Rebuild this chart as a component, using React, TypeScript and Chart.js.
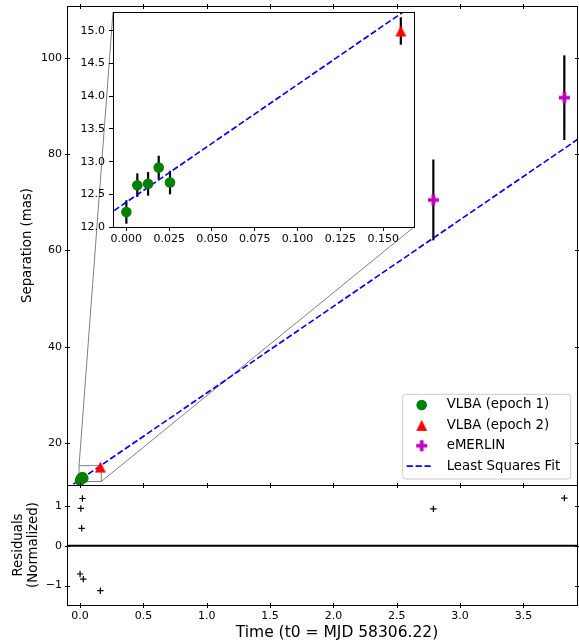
import React, { useEffect, useRef } from 'react';
import { Chart, registerables } from 'chart.js';

Chart.register(...registerables);

const FONT = 'DejaVu Sans';
Chart.defaults.font.family = FONT;

// ---------------- data ----------------
const VLBA1_TIME = [0.0, 0.0064, 0.0127, 0.0189, 0.0255];
const VLBA1_SEP = [12.23, 12.64, 12.66, 12.91, 12.68];
const VLBA1_ERR = [0.18, 0.18, 0.18, 0.18, 0.18];

const VLBA2_TIME = [0.1603];
const VLBA2_SEP = [15.0];
const VLBA2_ERR = [0.21];

const EMERLIN_TIME = [2.789, 3.823];
const EMERLIN_SEP = [70.5, 91.75];
const EMERLIN_ERR = [8.4, 8.8];

const FIT_TIME = [-0.11, 3.93];
const FIT_SEP = [10.4, 83.12];

const RESID_TIME = [0.0, 0.0064, 0.0127, 0.0189, 0.0255, 0.1603, 2.789, 3.823];
const RESID_VALUE = [-0.71, 0.94, 0.44, 1.19, -0.84, -1.13, 0.93, 1.2];

const MAIN_X_TICKS = [0, 0.5, 1, 1.5, 2, 2.5, 3, 3.5];
const MAIN_Y_TICKS = [20, 40, 60, 80, 100];
const RESID_Y_TICKS = [-1, 0, 1];
const INSET_X_TICKS = [0, 0.025, 0.05, 0.075, 0.1, 0.125, 0.15];
const INSET_Y_TICKS = [12.0, 12.5, 13.0, 13.5, 14.0, 14.5, 15.0];

const MAIN_X_RANGE = [-0.103, 3.923];
const MAIN_Y_RANGE = [11.27, 110.8];
const RESID_Y_RANGE = [-1.49, 1.53];
const INSET_X_RANGE = [-0.0078, 0.168];
const INSET_Y_RANGE = [12.0, 15.29];

const LABEL_VLBA1 = 'VLBA (epoch 1)';
const LABEL_VLBA2 = 'VLBA (epoch 2)';
const LABEL_EMERLIN = 'eMERLIN';
const LABEL_FIT = 'Least Squares Fit';
const Y_TITLE_MAIN = 'Separation (mas)';
const Y_TITLE_RESID = ['Residuals', '(Normalized)'];
const X_TITLE = 'Time (t0 = MJD 58306.22)';

// ---------------- styles / layout ----------------
const GREEN = '#008000';
const RED = '#ff0000';
const MAGENTA = '#bf00bf';
const BLUE = '#0000ff';
const TICK_FONT = { family: FONT, size: 11 };
const LABEL_SIZE = 13.3;
const INSET_BOX = { left: 113, top: 12, right: 414, bottom: 227 };

function points(xs: number[], ys: number[]) {
  return xs.map((x, i) => ({ x, y: ys[i] }));
}

function noPad(s: any) {
  s.paddingTop = 0;
  s.paddingBottom = 0;
  s.paddingLeft = 0;
  s.paddingRight = 0;
}

function makeTriangle(size: number, color: string): HTMLCanvasElement {
  const n = Math.ceil(size) + 2;
  const c = document.createElement('canvas');
  c.width = n;
  c.height = n;
  const g = c.getContext('2d')!;
  const cx = n / 2;
  const h = size / 2;
  g.fillStyle = color;
  g.beginPath();
  g.moveTo(cx, cx - h);
  g.lineTo(cx + h, cx + h);
  g.lineTo(cx - h, cx + h);
  g.closePath();
  g.fill();
  return c;
}

function makePlus(size: number, color: string): HTMLCanvasElement {
  const n = Math.ceil(size) + 2;
  const c = document.createElement('canvas');
  c.width = n;
  c.height = n;
  const g = c.getContext('2d')!;
  const cx = n / 2;
  const h = size / 2;
  const a = size / 6;
  g.fillStyle = color;
  g.fillRect(cx - a, cx - h, 2 * a, size);
  g.fillRect(cx - h, cx - a, size, 2 * a);
  return c;
}

const errorBarPlugin = {
  id: 'errorBars',
  beforeDatasetsDraw(chart: any) {
    const { ctx, chartArea: a } = chart;
    const xs = chart.scales.x;
    const ys = chart.scales.y;
    ctx.save();
    ctx.beginPath();
    ctx.rect(a.left, a.top, a.right - a.left, a.bottom - a.top);
    ctx.clip();
    ctx.strokeStyle = '#000';
    ctx.lineWidth = 2.2;
    chart.data.datasets.forEach((d: any) => {
      if (!d.errors) return;
      d.data.forEach((p: any, i: number) => {
        const e = d.errors[i];
        const x = xs.getPixelForValue(p.x);
        ctx.beginPath();
        ctx.moveTo(x, ys.getPixelForValue(p.y - e));
        ctx.lineTo(x, ys.getPixelForValue(p.y + e));
        ctx.stroke();
      });
    });
    ctx.restore();
  },
};

const insetMarkPlugin = {
  id: 'insetMark',
  beforeDatasetsDraw(chart: any, _args: any, opts: any) {
    if (!opts || !opts.show) return;
    const { ctx } = chart;
    const xs = chart.scales.x;
    const ys = chart.scales.y;
    const x0 = xs.getPixelForValue(INSET_X_RANGE[0]);
    const x1 = xs.getPixelForValue(INSET_X_RANGE[1]);
    const y0 = ys.getPixelForValue(INSET_Y_RANGE[1]);
    const y1 = ys.getPixelForValue(INSET_Y_RANGE[0]);
    ctx.save();
    ctx.strokeStyle = '#808080';
    ctx.lineWidth = 1;
    ctx.strokeRect(x0, y0, x1 - x0, y1 - y0);
    ctx.beginPath();
    ctx.moveTo(x0, y0);
    ctx.lineTo(INSET_BOX.left, INSET_BOX.top);
    ctx.moveTo(x1, y1);
    ctx.lineTo(INSET_BOX.right, INSET_BOX.bottom);
    ctx.stroke();
    ctx.restore();
  },
};

const framePlugin = {
  id: 'frame',
  beforeDraw(chart: any, _args: any, opts: any) {
    if (!opts || !opts.fill) return;
    const { ctx, chartArea: a } = chart;
    ctx.save();
    ctx.fillStyle = '#ffffff';
    ctx.fillRect(a.left, a.top, a.right - a.left, a.bottom - a.top);
    ctx.restore();
  },
  beforeDatasetsDraw(chart: any, _args: any, opts: any) {
    if (!opts || !opts.zeroLine) return;
    const { ctx, chartArea: a } = chart;
    const y = chart.scales.y.getPixelForValue(0);
    ctx.save();
    ctx.strokeStyle = '#000';
    ctx.lineWidth = 2;
    ctx.beginPath();
    ctx.moveTo(a.left, y);
    ctx.lineTo(a.right, y);
    ctx.stroke();
    ctx.restore();
  },
  afterDraw(chart: any, _args: any, opts: any) {
    const { ctx, chartArea: a } = chart;
    const L = Math.floor(a.left) + 0.5;
    const R = Math.floor(a.right) + 0.5;
    const T = Math.floor(a.top) + 0.5;
    const B = Math.floor(a.bottom) + 0.5;
    ctx.save();
    ctx.strokeStyle = '#000';
    ctx.lineWidth = 1;
    ctx.strokeRect(L, T, R - L, B - T);
    if (opts && opts.inout) {
      const xs = chart.scales.x;
      const ys = chart.scales.y;
      ctx.beginPath();
      (opts.xTicks || []).forEach((v: number) => {
        const x = Math.round(xs.getPixelForValue(v)) + 0.5;
        ctx.moveTo(x, T - 2.5);
        ctx.lineTo(x, T + 2.5);
        ctx.moveTo(x, B - 2.5);
        ctx.lineTo(x, B + 2.5);
      });
      (opts.yTicks || []).forEach((v: number) => {
        const y = Math.round(ys.getPixelForValue(v)) + 0.5;
        ctx.moveTo(L - 2.5, y);
        ctx.lineTo(L + 2.5, y);
        ctx.moveTo(R - 2.5, y);
        ctx.lineTo(R + 2.5, y);
      });
      ctx.stroke();
    }
    if (opts && opts.xTitle) {
      const t = opts.xTitle;
      ctx.fillStyle = '#000';
      ctx.font = `${t.size}px "${FONT}"`;
      ctx.textAlign = 'center';
      ctx.textBaseline = 'middle';
      ctx.fillText(t.text, t.x, t.y);
    }
    ctx.restore();
  },
};

const legendPlugin = {
  id: 'mplLegend',
  afterDatasetsDraw(chart: any, _args: any, opts: any) {
    if (!opts || !opts.show) return;
    const { ctx, chartArea: a } = chart;
    const w = 168;
    const h = 84.7;
    const right = a.right - 6.3;
    const bottom = a.bottom - 6;
    const left = right - w;
    const top = bottom - h;
    const r = 3;
    ctx.save();
    ctx.beginPath();
    ctx.moveTo(left + r, top);
    ctx.lineTo(right - r, top);
    ctx.arcTo(right, top, right, top + r, r);
    ctx.lineTo(right, bottom - r);
    ctx.arcTo(right, bottom, right - r, bottom, r);
    ctx.lineTo(left + r, bottom);
    ctx.arcTo(left, bottom, left, bottom - r, r);
    ctx.lineTo(left, top + r);
    ctx.arcTo(left, top, left + r, top, r);
    ctx.closePath();
    ctx.fillStyle = 'rgba(255,255,255,0.8)';
    ctx.fill();
    ctx.strokeStyle = '#cccccc';
    ctx.lineWidth = 1;
    ctx.stroke();

    const items = chart.data.datasets
      .filter((d: any) => d.label)
      .slice()
      .sort((p: any, q: any) => p.legendOrder - q.legendOrder);
    items.forEach((d: any, i: number) => {
      const y = top + 10.7 + i * 20.35;
      const mx = left + 19;
      if (d.showLine) {
        ctx.save();
        ctx.strokeStyle = d.borderColor;
        ctx.lineWidth = d.borderWidth;
        ctx.setLineDash(d.borderDash || []);
        ctx.beginPath();
        ctx.moveTo(left + 4, y);
        ctx.lineTo(left + 30.7, y);
        ctx.stroke();
        ctx.restore();
      } else if (typeof d.pointStyle === 'object') {
        const img = d.pointStyle;
        ctx.drawImage(img, mx - img.width / 2, y - img.height / 2);
      } else {
        ctx.fillStyle = d.backgroundColor;
        ctx.beginPath();
        ctx.arc(mx, y, d.pointRadius, 0, Math.PI * 2);
        ctx.fill();
      }
      ctx.fillStyle = '#000';
      ctx.font = `${LABEL_SIZE}px "${FONT}"`;
      ctx.textAlign = 'left';
      ctx.textBaseline = 'middle';
      ctx.fillText(d.label, left + 44, y);
    });
    ctx.restore();
  },
};

function buildDatasets(tri: HTMLCanvasElement, plus: HTMLCanvasElement) {
  return [
    {
      label: LABEL_VLBA1,
      legendOrder: 0,
      data: points(VLBA1_TIME, VLBA1_SEP),
      errors: VLBA1_ERR,
      pointStyle: 'circle',
      pointRadius: 5.3,
      backgroundColor: GREEN,
      borderColor: GREEN,
      borderWidth: 0,
      order: 0,
    },
    {
      label: LABEL_VLBA2,
      legendOrder: 1,
      data: points(VLBA2_TIME, VLBA2_SEP),
      errors: VLBA2_ERR,
      pointStyle: tri,
      pointRadius: 5,
      backgroundColor: RED,
      borderColor: RED,
      borderWidth: 0,
      order: 0,
    },
    {
      label: LABEL_EMERLIN,
      legendOrder: 2,
      data: points(EMERLIN_TIME, EMERLIN_SEP),
      errors: EMERLIN_ERR,
      pointStyle: plus,
      pointRadius: 5,
      backgroundColor: MAGENTA,
      borderColor: MAGENTA,
      borderWidth: 0,
      order: 0,
    },
    {
      label: LABEL_FIT,
      legendOrder: 3,
      data: points(FIT_TIME, FIT_SEP),
      showLine: true,
      pointRadius: 0,
      borderColor: BLUE,
      borderWidth: 1.67,
      borderDash: [6.2, 2.7],
      fill: false,
      order: 1,
    },
  ];
}

const HIDDEN_GRID = { display: false, drawTicks: false };

export default function App() {
  const mainRef = useRef<HTMLCanvasElement>(null);
  const residRef = useRef<HTMLCanvasElement>(null);
  const insetRef = useRef<HTMLCanvasElement>(null);

  useEffect(() => {
    const tri = makeTriangle(11, RED);
    const plus = makePlus(11, MAGENTA);

    const main = new Chart(mainRef.current!, {
      type: 'scatter',
      data: { datasets: buildDatasets(tri, plus) as any },
      options: {
        animation: false,
        responsive: false,
        layout: { autoPadding: false, padding: { top: 6, right: 2, bottom: 5, left: 0 } },
        scales: {
          x: { type: 'linear', display: false, min: MAIN_X_RANGE[0], max: MAIN_X_RANGE[1] },
          y: {
            type: 'linear',
            min: MAIN_Y_RANGE[0],
            max: MAIN_Y_RANGE[1],
            afterBuildTicks: (s: any) => {
              s.ticks = MAIN_Y_TICKS.map((v) => ({ value: v }));
            },
            afterFit: (s: any) => {
              s.width = 67;
              noPad(s);
            },
            grid: HIDDEN_GRID,
            border: { display: false },
            ticks: { padding: 5, color: '#000', font: TICK_FONT, callback: (v: any) => String(v) },
            title: {
              display: true,
              text: Y_TITLE_MAIN,
              color: '#000',
              font: { family: FONT, size: LABEL_SIZE, lineHeight: 1.13 },
              padding: { top: 20, bottom: 0 },
            },
          },
        },
        plugins: {
          legend: { display: false },
          tooltip: { enabled: false },
          insetMark: { show: true },
          frame: { inout: true, xTicks: MAIN_X_TICKS, yTicks: MAIN_Y_TICKS },
          mplLegend: { show: true },
        } as any,
      },
      plugins: [insetMarkPlugin, errorBarPlugin, framePlugin, legendPlugin],
    });

    const resid = new Chart(residRef.current!, {
      type: 'scatter',
      data: {
        datasets: [
          {
            data: points(RESID_TIME, RESID_VALUE),
            pointStyle: 'cross',
            pointRadius: 3.2,
            borderColor: '#000',
            backgroundColor: '#000',
            borderWidth: 1.2,
          },
        ],
      },
      options: {
        animation: false,
        responsive: false,
        layout: { autoPadding: false, padding: { top: 5, right: 2, bottom: 0, left: 0 } },
        scales: {
          x: {
            type: 'linear',
            min: MAIN_X_RANGE[0],
            max: MAIN_X_RANGE[1],
            afterBuildTicks: (s: any) => {
              s.ticks = MAIN_X_TICKS.map((v) => ({ value: v }));
            },
            afterFit: (s: any) => {
              s.height = 38;
              noPad(s);
            },
            grid: HIDDEN_GRID,
            border: { display: false },
            ticks: {
              padding: 5,
              color: '#000',
              font: TICK_FONT,
              autoSkip: false,
              maxRotation: 0,
              callback: (v: any) => Number(v).toFixed(1),
            },
          },
          y: {
            type: 'linear',
            min: RESID_Y_RANGE[0],
            max: RESID_Y_RANGE[1],
            afterBuildTicks: (s: any) => {
              s.ticks = RESID_Y_TICKS.map((v) => ({ value: v }));
            },
            afterFit: (s: any) => {
              s.width = 67;
              noPad(s);
            },
            grid: HIDDEN_GRID,
            border: { display: false },
            ticks: {
              padding: 5,
              color: '#000',
              font: TICK_FONT,
              callback: (v: any) => (Number(v) < 0 ? '\u2212' + Math.abs(Number(v)) : String(v)),
            },
            title: {
              display: true,
              text: Y_TITLE_RESID,
              color: '#000',
              font: { family: FONT, size: LABEL_SIZE, lineHeight: 1.13 },
              padding: { top: 10.8, bottom: 0 },
            },
          },
        },
        plugins: {
          legend: { display: false },
          tooltip: { enabled: false },
          frame: {
            inout: true,
            zeroLine: true,
            xTicks: MAIN_X_TICKS,
            yTicks: RESID_Y_TICKS,
            xTitle: { text: X_TITLE, x: 337, y: 152.7, size: 15.5 },
          },
        } as any,
      },
      plugins: [framePlugin],
    });

    const inset = new Chart(insetRef.current!, {
      type: 'scatter',
      data: { datasets: buildDatasets(tri, plus) as any },
      options: {
        animation: false,
        responsive: false,
        layout: { autoPadding: false, padding: { top: INSET_BOX.top, right: 6, bottom: 0, left: 0 } },
        scales: {
          x: {
            type: 'linear',
            min: INSET_X_RANGE[0],
            max: INSET_X_RANGE[1],
            afterBuildTicks: (s: any) => {
              s.ticks = INSET_X_TICKS.map((v) => ({ value: v }));
            },
            afterFit: (s: any) => {
              s.height = 23;
              noPad(s);
            },
            grid: { display: true, drawOnChartArea: false, drawTicks: true, tickLength: 4, color: '#000', lineWidth: 1 },
            border: { display: false },
            ticks: {
              padding: 1.5,
              color: '#000',
              font: TICK_FONT,
              autoSkip: false,
              maxRotation: 0,
              callback: (v: any) => Number(v).toFixed(3),
            },
          },
          y: {
            type: 'linear',
            min: INSET_Y_RANGE[0],
            max: INSET_Y_RANGE[1],
            afterBuildTicks: (s: any) => {
              s.ticks = INSET_Y_TICKS.map((v) => ({ value: v }));
            },
            afterFit: (s: any) => {
              s.width = 43;
              noPad(s);
            },
            grid: { display: true, drawOnChartArea: false, drawTicks: true, tickLength: 4, color: '#000', lineWidth: 1 },
            border: { display: false },
            ticks: {
              padding: 4,
              color: '#000',
              font: TICK_FONT,
              callback: (v: any) => Number(v).toFixed(1),
            },
          },
        },
        plugins: {
          legend: { display: false },
          tooltip: { enabled: false },
          frame: { fill: true },
        } as any,
      },
      plugins: [errorBarPlugin, framePlugin],
    });

    return () => {
      main.destroy();
      resid.destroy();
      inset.destroy();
    };
  }, []);

  return (
    <div style={{ position: 'absolute', left: 0, top: 0, width: 579, height: 643, background: '#fff' }}>
      <canvas ref={mainRef} width={579} height={490} style={{ position: 'absolute', left: 0, top: 0 }} />
      <canvas ref={residRef} width={579} height={163} style={{ position: 'absolute', left: 0, top: 480 }} />
      <canvas
        ref={insetRef}
        width={350}
        height={250}
        style={{ position: 'absolute', left: INSET_BOX.left - 43, top: 0 }}
      />
    </div>
  );
}
